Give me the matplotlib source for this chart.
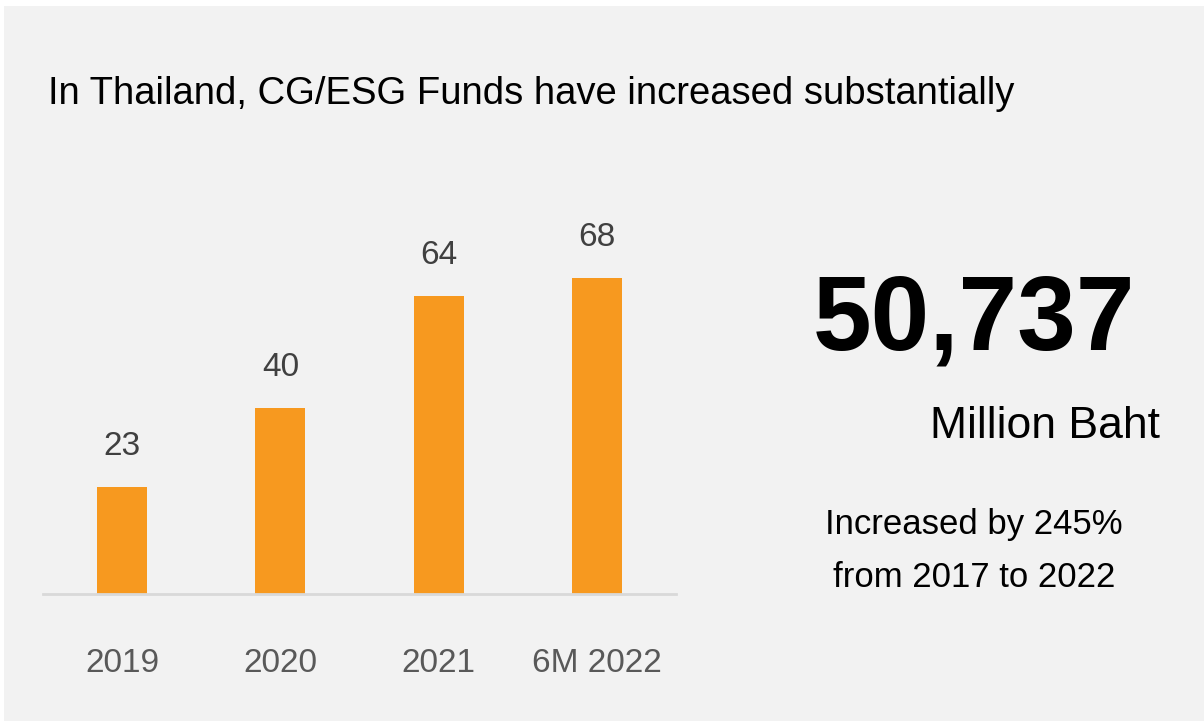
import matplotlib
matplotlib.use("Agg")
import matplotlib.pyplot as plt
from matplotlib.patches import Rectangle

categories = ["2019", "2020", "2021", "6M 2022"]
values = [23, 40, 64, 68]
title = "In Thailand, CG/ESG Funds have increased substantially"
big_number = "50,737"
unit = "Million Baht"
note_lines = ["Increased by 245%", "from 2017 to 2022"]

W, H = 1204, 721
plt.rcParams['font.family'] = ['Liberation Sans', 'DejaVu Sans']

fig = plt.figure(figsize=(W / 100, H / 100), dpi=100)
fig.patch.set_facecolor('white')

# gray panel
fig.patches.append(Rectangle((4 / W, 0 / H), 1 - 4 / W, (H - 6) / H,
                             transform=fig.transFigure, facecolor='#f2f2f2',
                             edgecolor='none', zorder=-5))

def fx(px):
    return px / W

def fy(py):
    return (H - py) / H

ax = fig.add_axes([fx(43), fy(594), (676 - 43) / W, 465 / H])
ax.set_zorder(2)
ax.patch.set_visible(False)
x = list(range(len(categories)))
bars = ax.bar(x, values, width=0.316, color='#F7991F', zorder=2)
ax.set_xlim(-0.5, 3.5)
ax.set_ylim(0, 100)
for s in ['top', 'right', 'left']:
    ax.spines[s].set_visible(False)
ax.spines['bottom'].set_color('#d9d9d9')
ax.spines['bottom'].set_linewidth(2)
ax.set_yticks([])
ax.set_xticks(x)
ax.set_xticklabels(categories, fontsize=24, color='#595959')
ax.tick_params(axis='x', length=0, pad=56)
for lab in ax.get_xticklabels():
    lab.set_verticalalignment('baseline')

for xi, v in zip(x, values):
    ax.annotate(f"{v}", xy=(xi, v), xytext=(0, 23), textcoords='offset points',
                ha='center', va='baseline', fontsize=24, color='#404040')

fig.text(fx(48), fy(104), title, fontsize=27.5, color='#000000',
         ha='left', va='baseline')
fig.text(fx(974), fy(350), big_number, fontsize=76, fontweight='bold',
         color='#000000', ha='center', va='baseline')
fig.text(fx(1160), fy(438), unit, fontsize=32, color='#000000',
         ha='right', va='baseline')
fig.text(fx(974), fy(534), note_lines[0], fontsize=25, color='#000000',
         ha='center', va='baseline')
fig.text(fx(974), fy(587), note_lines[1], fontsize=25, color='#000000',
         ha='center', va='baseline')

fig.savefig("out.png", dpi=100, facecolor=fig.get_facecolor())
